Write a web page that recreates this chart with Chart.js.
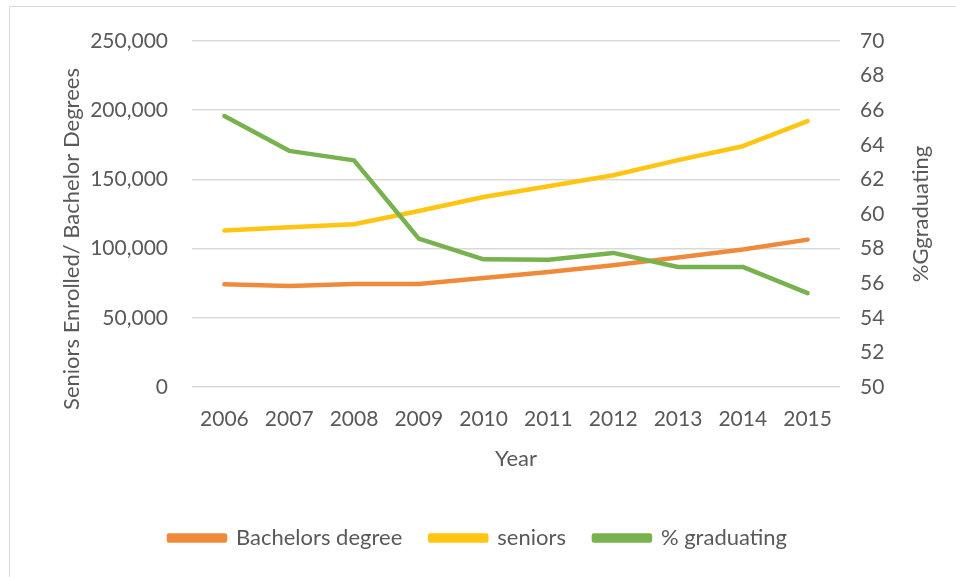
<!DOCTYPE html>
<html>
<head>
<meta charset="utf-8">
<script src="https://cdn.jsdelivr.net/npm/chart.js@4/dist/chart.umd.min.js"></script>
<style>
  body { margin: 0; background: #fff; }
  #wrap { position: relative; width: 956px; height: 577px; }
  #frame {
    position: absolute; left: 9px; top: 6px; right: 0; bottom: 0;
    border-left: 1.5px solid #d9d9d9; border-top: 1.5px solid #d9d9d9;
  }
  canvas { position: absolute; left: 0; top: 0; }
</style>
</head>
<body>
<div id="wrap">
  <div id="frame"></div>
  <canvas id="chart" width="956" height="577"></canvas>
</div>
<script>
const years = ["2006", "2007", "2008", "2009", "2010", "2011", "2012", "2013", "2014", "2015"];
const bachelors = [74200, 72900, 74400, 74400, 78700, 83100, 87900, 93500, 99300, 106500];
const seniors = [113000, 115400, 117600, 127200, 137300, 145100, 153000, 163900, 174000, 192100];
const pctGraduating = [65.66, 63.65, 63.1, 58.58, 57.38, 57.36, 57.75, 56.94, 56.94, 55.43];

const textColor = "#595959";
const fontFamily = "Lato, 'Open Sans', sans-serif";

// vertical axis titles, both read bottom-to-top like the original
const axisTitles = {
  id: "axisTitles",
  afterDraw(chart) {
    const ctx = chart.ctx;
    const area = chart.chartArea;
    ctx.save();
    ctx.fillStyle = textColor;
    ctx.font = "22px " + fontFamily;
    ctx.textAlign = "center";
    ctx.textBaseline = "middle";

    ctx.save();
    ctx.translate(72, area.top + 198);
    ctx.rotate(-Math.PI / 2);
    ctx.fillText("Seniors Enrolled/ Bachelor Degrees", 0, 0);
    ctx.restore();

    ctx.save();
    ctx.translate(921, (area.top + area.bottom) / 2);
    ctx.rotate(-Math.PI / 2);
    ctx.fillText("%Ggraduating", 0, 0);
    ctx.restore();

    ctx.restore();
  },
};

const chartConfig = {
  type: "line",
  data: {
    labels: years,
    datasets: [
      {
        label: "Bachelors degree",
        data: bachelors,
        borderColor: "#F08A3B",
        backgroundColor: "#F08A3B",
        yAxisID: "y",
        order: 2,
      },
      {
        label: "seniors",
        data: seniors,
        borderColor: "#FFC512",
        backgroundColor: "#FFC512",
        yAxisID: "y",
        order: 1,
      },
      {
        label: "% graduating",
        data: pctGraduating,
        borderColor: "#78B24F",
        backgroundColor: "#78B24F",
        yAxisID: "y2",
        order: 0,
      },
    ],
  },
  options: {
    responsive: false,
    animation: false,
    devicePixelRatio: 1,
    layout: { padding: { top: 41, left: 0, right: 0, bottom: 18 } },
    elements: {
      line: { borderWidth: 4.5, tension: 0, borderCapStyle: "round", borderJoinStyle: "round" },
      point: { radius: 0, hoverRadius: 0 },
    },
    plugins: {
      tooltip: { enabled: false },
      legend: {
        position: "bottom",
        labels: {
          color: textColor,
          font: { family: fontFamily, size: 22 },
          boxWidth: 56,
          boxHeight: 5,
          padding: 28,
          sort: (a, b) => a.datasetIndex - b.datasetIndex,
        },
      },
    },
    scales: {
      x: {
        offset: true,
        grid: { display: false },
        border: { display: false },
        ticks: { color: textColor, font: { family: fontFamily, size: 21 }, padding: 12, maxRotation: 0 },
        title: {
          display: true,
          text: "Year",
          color: textColor,
          font: { family: fontFamily, size: 22 },
          padding: { top: 0, bottom: 27 },
        },
        afterFit(scale) { scale.height = 112; },
      },
      y: {
        position: "left",
        min: 0,
        max: 250000,
        ticks: {
          stepSize: 50000,
          color: textColor,
          font: { family: fontFamily, size: 21 },
          padding: 24,
          callback: (v) => v.toLocaleString("en-US"),
        },
        grid: { color: "#d9d9d9", lineWidth: 1.5, drawTicks: false },
        border: { display: false },
        afterFit(scale) { scale.width = 192; },
      },
      y2: {
        position: "right",
        min: 50,
        max: 70,
        ticks: { stepSize: 2, color: textColor, font: { family: fontFamily, size: 21 }, padding: 20 },
        grid: { display: false, drawTicks: false },
        border: { display: false },
        afterFit(scale) { scale.width = 116; },
      },
    },
  },
  plugins: [axisTitles],
};

new Chart(document.getElementById("chart").getContext("2d"), chartConfig);
</script>
</body>
</html>
